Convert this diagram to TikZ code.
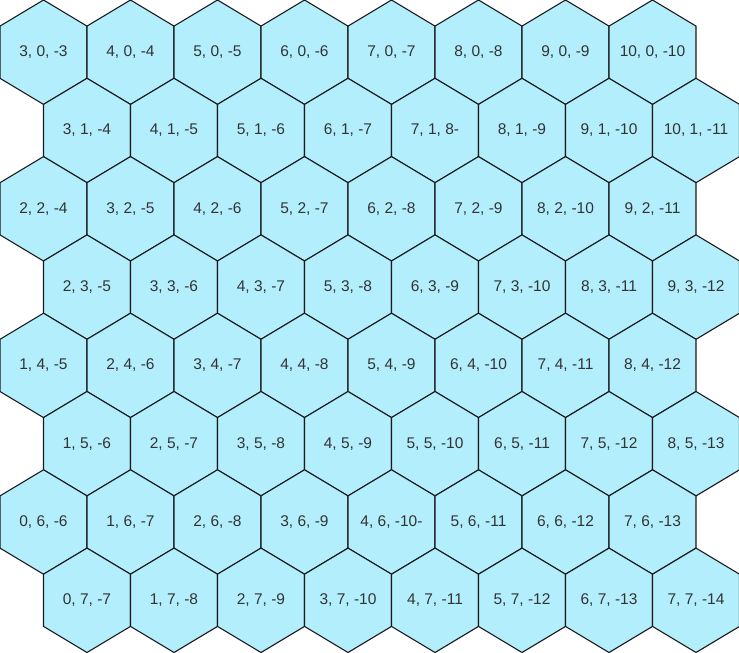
\documentclass[tikz,border=0pt]{standalone}
\usepackage{fontspec}
\setmainfont{Liberation Sans}
\definecolor{cellfill}{RGB}{179,238,253}
\definecolor{celltext}{RGB}{51,51,51}

\begin{document}
\begin{tikzpicture}[
      x=1pt, y=-1pt,
      hexcell/.style={fill=cellfill, draw=black!90, line width=1.1pt, line join=miter},
      cubelabel/.style={text=celltext, font=\fontsize{15.5}{17}\selectfont, inner sep=0pt},
]
\useasboundingbox (0,0) rectangle (739,653);

\foreach \r in {0,...,7}{
  \foreach \c in {0,...,7}{
    \pgfmathsetmacro\cx{43.5+87*\c+43.5*mod(\r,2)}
    \pgfmathsetmacro\cy{52.2+78.3*\r}
    \pgfmathtruncatemacro\qa{\c+3-floor(\r/2)}
    \pgfmathtruncatemacro\qc{-\qa-\r}
    \coordinate (ctr-\r-\c) at (\cx,\cy);
    \draw[hexcell] (ctr-\r-\c) ++(0,-52.2) -- ++(43.5,26.1) -- ++(0,52.2) -- ++(-43.5,26.1)
      -- ++(-43.5,-26.1) -- ++(0,-52.2) -- cycle;
    \def\lab{\qa, \r, \qc}
    \ifnum\r\c=14 \def\lab{7, 1, 8-}\fi
    \ifnum\r\c=64 \def\lab{4, 6, -10-}\fi
    \node[cubelabel] (cell-\r-\c) at (ctr-\r-\c) {\lab};
  }
}

\end{tikzpicture}
\end{document}
